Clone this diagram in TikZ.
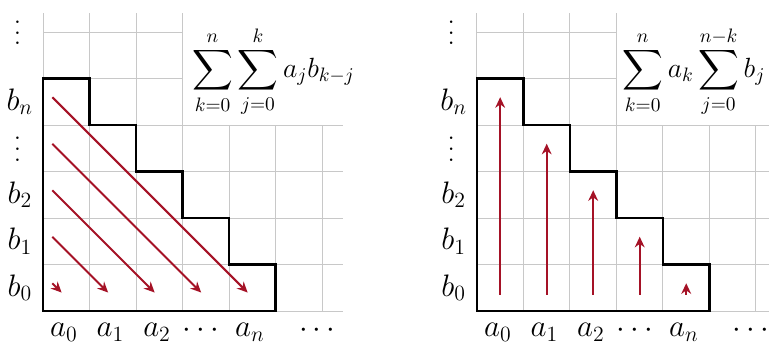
\RequirePackage{fix-cm}
\documentclass[tikz,border=0pt]{standalone}
\usepackage{amsmath}
\usetikzlibrary{arrows.meta}
\definecolor{arrowred}{RGB}{165,18,38}
\definecolor{gridgray}{RGB}{200,200,200}
\newcommand\myvdots{\vbox{\baselineskip6.5pt\lineskiplimit0pt\hbox{.}\hbox{.}\hbox{.}}}
\begin{document}
\begin{tikzpicture}[
  gridline/.style={draw=gridgray, line width=0.6pt},
  stair/.style={draw=black, line width=1.5pt, line join=miter},
  redarrow/.style={draw=arrowred, line width=1.2pt, -{Stealth[length=6.5pt,width=6pt]}},
  lab/.style={font=\fontsize{19}{22}\selectfont, inner sep=0pt},
  formula/.style={font=\fontsize{17}{20}\selectfont, anchor=west, inner sep=0pt}
]
\useasboundingbox (-0.925,-0.69) rectangle (15.61,6.69);
\clip (-0.925,-0.69) rectangle (15.61,6.69);

\foreach \ox/\p in {0/L,9.33/R}{
  \begin{scope}[xshift=\ox cm]
    % grid
    \foreach \y in {0,...,4} \draw[gridline] (0,\y) -- (6.45,\y);
    \foreach \y in {5,6} \draw[gridline] (0,\y) -- (3,\y);
    \foreach \x in {0,...,3} \draw[gridline] (\x,0) -- (\x,6.41);
    \foreach \x in {4,5,6} \draw[gridline] (\x,0) -- (\x,4);
    % staircase
    \draw[stair] (0,0) -- (0,5) -- (1,5) -- (1,4) -- (2,4) -- (2,3) -- (3,3)
      -- (3,2) -- (4,2) -- (4,1) -- (5,1) -- (5,0) -- cycle;
    % row labels
    \node[lab] (\p b0) at (-0.5,0.5) {$b_0$};
    \node[lab] (\p b1) at (-0.5,1.5) {$b_1$};
    \node[lab] (\p b2) at (-0.5,2.5) {$b_2$};
    \node[lab] (\p bv) at (-0.55,3.48) {\myvdots};
    \node[lab] (\p bn) at (-0.5,4.5) {$b_n$};
    \node[lab] (\p bt) at (-0.55,5.98) {\myvdots};
    % column labels
    \node[lab] (\p a0) at (0.45,-0.45) {$a_0$};
    \node[lab] (\p a1) at (1.45,-0.45) {$a_1$};
    \node[lab] (\p a2) at (2.45,-0.45) {$a_2$};
    \node[lab] (\p ad) at (3.45,-0.42) {$\cdots$};
    \node[lab] (\p an) at (4.45,-0.45) {$a_n$};
    \node[lab] (\p ar) at (5.95,-0.42) {$\cdots$};
  \end{scope}
}

% left panel: diagonal arrows
\foreach \k in {0,...,4}{
  \coordinate (Ls\k) at (0.2,{\k+0.6});
  \coordinate (Le\k) at ({\k+0.4},0.4);
  \draw[redarrow] (Ls\k) -- (Le\k);
}
% right panel: vertical arrows
\foreach \k in {0,...,4}{
  \coordinate (Rs\k) at ({9.33+\k+0.5},0.35);
  \coordinate (Re\k) at ({9.33+\k+0.5},{4.6-\k});
  \draw[redarrow] (Rs\k) -- (Re\k);
}

\node[formula] (Lf) at (3.2,5.15)
  {$\displaystyle\sum_{k=0}^{n}\sum_{j=0}^{k}a_jb_{k-j}$};
\node[formula] (Rf) at (12.45,5.15)
  {$\displaystyle\sum_{k=0}^{n}a_k\sum_{j=0}^{n-k}b_j$};
\end{tikzpicture}
\end{document}
